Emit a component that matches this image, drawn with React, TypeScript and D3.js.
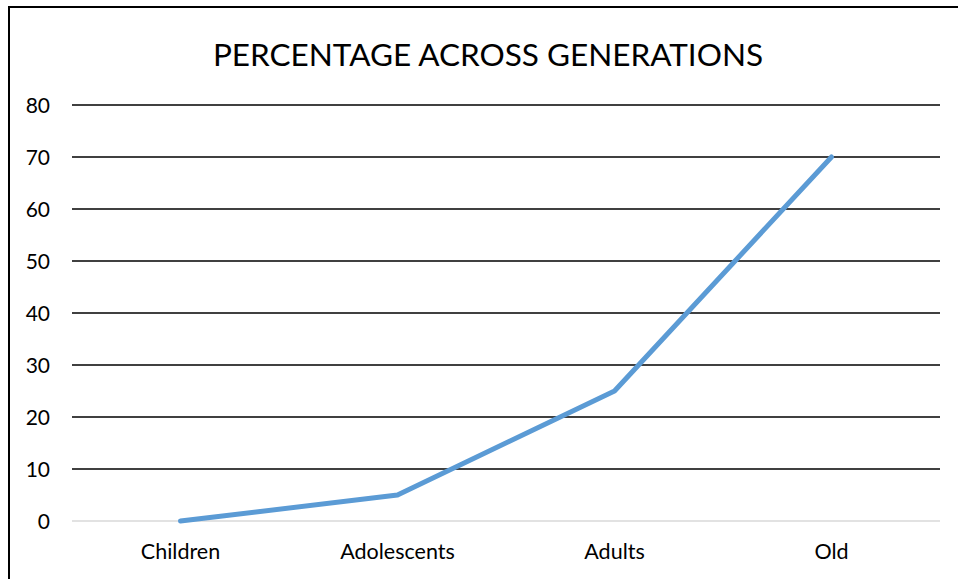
import React from "react";
import * as d3 from "d3";

const categories = ["Children", "Adolescents", "Adults", "Old"];
const values = [0, 5, 25, 70];
const yTicks = [0, 10, 20, 30, 40, 50, 60, 70, 80];
const title = "PERCENTAGE ACROSS GENERATIONS";

const W = 958;
const H = 579;
const FONT = "Lato, 'Open Sans', sans-serif";

export default function App() {
  const x = d3.scaleBand<string>().domain(categories).range([72, 940]);
  const y = d3.scaleLinear().domain([0, 80]).range([521, 105]);
  const line = d3
    .line<number>()
    .x((_, i) => (x(categories[i]) as number) + x.bandwidth() / 2)
    .y((d) => y(d));

  return (
    <svg
      width={W}
      height={H}
      style={{ position: "absolute", left: 0, top: 0, display: "block", background: "#fff" }}
    >
      <rect x={9} y={7} width={W + 10} height={H + 10} fill="#fff" stroke="#000" strokeWidth={2} />
      <text x={488} y={66} textAnchor="middle" fontFamily={FONT} fontSize={31.5} fill="#000">
        {title}
      </text>
      {yTicks.map((t) => (
        <g key={t}>
          <line
            x1={72}
            x2={940}
            y1={y(t)}
            y2={y(t)}
            stroke={t === 0 ? "#d9d9d9" : "#000"}
            strokeWidth={1.5}
          />
          <text
            x={50}
            y={y(t)}
            dy="0.36em"
            textAnchor="end"
            fontFamily={FONT}
            fontSize={21}
            fill="#000"
          >
            {t}
          </text>
        </g>
      ))}
      {categories.map((c) => (
        <text
          key={c}
          x={(x(c) as number) + x.bandwidth() / 2}
          y={559}
          textAnchor="middle"
          fontFamily={FONT}
          fontSize={21.5}
          fill="#000"
        >
          {c}
        </text>
      ))}
      <path
        d={line(values) || ""}
        fill="none"
        stroke="#5B9BD5"
        strokeWidth={5}
        strokeLinejoin="round"
        strokeLinecap="round"
      />
    </svg>
  );
}
